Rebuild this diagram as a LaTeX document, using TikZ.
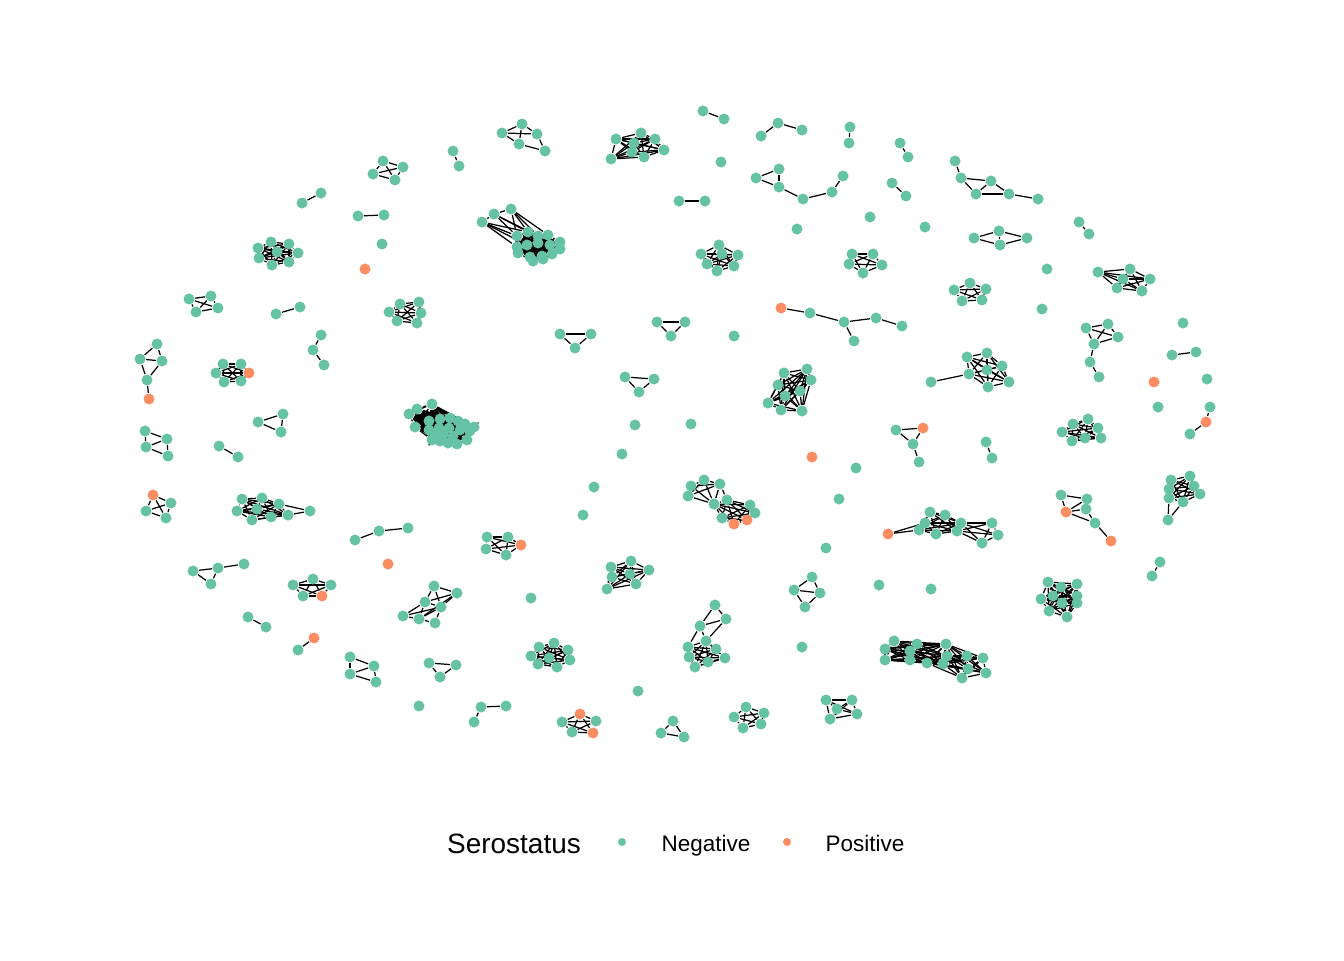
\documentclass[tikz,border=0pt]{standalone}
\usepackage{fontspec}
\setmainfont{Liberation Sans}
\usetikzlibrary{backgrounds}
\definecolor{negC}{RGB}{102,194,165}
\definecolor{posC}{RGB}{252,141,98}
% nodes of one component, edges listed, and all pairs of a list
\newcommand{\grp}[2]{\foreach \n/\x/\y in {#2} \node[negdot] (#1\n) at (\x,\y) {};}
\newcommand{\links}[2]{\foreach \na/\nb in {#2} \draw[link] (#1\na) -- (#1\nb);}
\newcommand{\fullmesh}[2]{\foreach \na [count=\i] in {#2}{\foreach \nb [count=\j] in {#2}{\ifnum\i<\j \draw[link] (#1\na) -- (#1\nb);\fi}}}

\begin{document}
\begin{tikzpicture}[x=0.1mm, y=-0.1mm,
  negdot/.style={circle, fill=negC, inner sep=0pt, minimum size=1.1mm},
  posdot/.style={negdot, fill=posC},
  link/.style={line width=0.35pt, draw=black},
  legtxt/.style={font=\fontsize{6.4}{8}\selectfont, anchor=base west, inner sep=0pt},
]
\useasboundingbox (0,0) rectangle (1344,960);

% ============ nodes ============
\grp{c1}{a/502/133,b/522/124,c/537/134,d/519/144,e/545/151}
\grp{c2}{a/616/139,b/641/133,c/655/139,d/634/143,e/664/150,f/611/159,g/632/152,h/644/157}
\grp{c3}{a/703/111,b/724/119}
\grp{c4}{a/761/136,b/778/123,c/802/130}
\grp{c5}{a/850/127,b/849/143}
\grp{c6}{a/900/143,b/908/157}
\grp{c7}{a/955/161,b/961/178,c/991/181,d/976/194,e/1009/194,f/1038/199}
\grp{c8}{a/453/151,b/459/166}
\grp{c9}{a/383/161,b/403/167,c/373/174,d/395/180}
\grp{c10}{a/721/162}
\grp{c11}{a/756/178,b/779/169,c/779/187,d/803/199,e/832/192,f/843/176}
\grp{c12}{a/892/183,b/906/196}
\grp{c13}{a/302/203,b/321/193}
\grp{c14}{a/679/201,b/705/201}
\grp{c15}{a/358/216,b/384/215}
\grp{c16}{a/870/217}
\grp{c17}{a/482/222,b/494/214,c/511/209,d/517/236,e/528/232,f/538/236,g/548/235,h/560/242,i/517/247,j/527/245,k/538/243,l/550/245,m/560/249,n/518/253,o/530/257,p/542/256,q/552/254,r/533/261,s/543/259}
\grp{c18}{a/925/227}
\grp{c19}{a/797/229}
\grp{c20}{a/974/238,b/999/231,c/1000/245,d/1027/238}
\grp{c21}{a/1079/222,b/1089/234}
\grp{c22}{a/271/242,b/289/244,c/258/248,d/277/252,e/298/253,f/259/258,g/289/262,h/272/265}
\grp{c23}{a/382/244}
\grp{c24}{a/701/254,b/719/245,c/738/255,d/722/254,e/707/264,f/717/271,g/734/266}
\grp{c25}{a/852/254,b/873/254,c/882/265,d/863/273,e/849/264}
\node[posdot] (c26a) at (365,269) {};
\grp{c27}{a/1047/269}
\grp{c28}{a/1098/272,b/1130/269,c/1123/279,d/1150/279,e/1117/288,f/1142/291}
\grp{c29}{a/954/290,b/970/283,c/986/289,d/962/301,e/982/300}
\grp{c30}{a/189/299,b/211/296,c/196/312,d/218/308}
\grp{c31}{a/276/314,b/300/307}
\grp{c32}{a/400/304,b/419/302,c/389/312,d/421/313,e/397/321,f/417/323}
\node[posdot] (c33a) at (781,308) {};
\grp{c33}{b/810/313,c/844/322,d/876/318,e/902/326,f/854/341}
\grp{c34}{a/1042/309}
\grp{c35}{a/1183/323}
\grp{c36}{a/1086/328,b/1108/324,c/1118/337,d/1094/344,e/1090/362,f/1099/377}
\grp{c37}{a/560/334,b/591/334,c/575/348}
\grp{c38}{a/657/322,b/685/322,c/671/336}
\grp{c39}{a/734/336}
\grp{c40}{a/321/335,b/313/350,c/324/365}
\grp{c41}{a/157/344,b/140/359,c/162/361,d/147/380}
\node[posdot] (c41e) at (149,399) {};
\grp{c42}{a/1172/355,b/1196/352}
\grp{c43}{a/223/364,b/241/364,c/216/373,e/224/382,f/241/381}
\node[posdot] (c43d) at (249,373) {};
\grp{c44}{a/931/382,b/967/357,c/987/353,d/1002/366,e/987/370,f/969/374,g/1009/382,h/988/387}
\grp{c45}{a/784/373,b/807/369,c/811/380,d/778/385,e/800/391,f/785/396,g/768/403,h/781/410,i/802/411}
\grp{c46}{a/625/377,b/654/379,c/639/392}
\node[posdot] (c47a) at (1154,382) {};
\grp{c48}{a/1207/379}
\grp{c49}{a/1158/407}
\grp{c50}{a/1210/407,c/1190/434}
\node[posdot] (c50b) at (1206,422) {};
\grp{c51}{a/432/404,b/417/409,c/409/414,d/415/427,e/429/421,f/440/419,g/450/418,h/458/421,i/465/424,j/474/427,k/429/430,l/439/428,m/449/428,n/460/430,o/470/431,p/432/440,q/440/441,r/448/443,s/457/444,t/467/440,u/435/435,v/453/436,w/443/435}
\grp{c52}{a/258/422,b/283/414,c/281/432}
\grp{c53}{a/635/425}
\grp{c54}{a/691/424}
\grp{c55}{a/145/431,b/167/439,c/146/447,d/168/456}
\grp{c56}{a/896/430,c/913/444,d/919/462}
\node[posdot] (c56b) at (923,428) {};
\grp{c57}{a/986/442,b/992/458}
\grp{c58}{a/1073/424,b/1088/419,c/1098/428,d/1062/432,e/1072/441,f/1085/438,g/1101/438}
\grp{c59}{a/219/446,b/238/457}
\grp{c60}{a/622/454}
\node[posdot] (c61a) at (812,457) {};
\grp{c62}{a/856/468}
\grp{c63}{a/1171/480,b/1190/476,c/1169/489,d/1194/486,e/1200/494,f/1169/498,g/1183/502,h/1168/520}
\grp{c64}{a/594/487}
\grp{c65}{a/691/486,b/704/480,c/720/484,d/688/496,e/714/504,f/727/500,g/750/505,h/755/513,i/722/518}
\node[posdot] (c65j) at (734,524) {};
\node[posdot] (c65k) at (747,520) {};
\node[posdot] (c66a) at (153,495) {};
\grp{c66}{b/171/503,c/146/511,d/166/518}
\grp{c67}{a/242/499,b/262/498,c/279/504,d/237/511,e/257/509,f/252/520,g/271/517,h/288/515,i/310/511}
\grp{c68}{a/1061/495,b/1087/499,d/1086/509,e/1095/523}
\node[posdot] (c68c) at (1066,512) {};
\node[posdot] (c68f) at (1111,541) {};
\grp{c69}{a/839/499}
\grp{c70}{a/583/515}
\node[posdot] (c71a) at (888,534) {};
\grp{c71}{b/919/530,c/930/512,d/945/515,e/925/523,f/936/534,g/957/531,h/961/523,i/992/523,j/998/535,k/982/543}
\grp{c72}{a/355/540,b/379/531,c/408/528}
\grp{c73}{a/487/537,b/508/537,c/486/549,d/506/555}
\node[posdot] (c73e) at (521,545) {};
\grp{c74}{a/826/548}
\node[posdot] (c75a) at (388,564) {};
\grp{c76}{a/1160/562,b/1152/576}
\grp{c77}{a/611/567,b/631/561,c/649/570,d/612/577,e/630/574,f/636/584,g/607/589}
\grp{c78}{a/193/571,b/218/568,c/211/584,d/244/564}
\grp{c79}{a/293/585,b/313/579,c/331/585,d/303/596}
\node[posdot] (c79e) at (322,596) {};
\grp{c80}{a/879/585}
\grp{c81}{a/931/589}
\grp{c82}{a/1048/582,b/1077/584,c/1061/587,d/1053/596,e/1077/596,f/1041/599,g/1062/603,h/1077/603,i/1049/611,j/1067/617}
\grp{c83}{a/812/577,b/794/590,c/820/593,d/805/607}
\grp{c84}{a/531/598}
\grp{c85}{a/434/586,b/457/593,c/425/602,d/441/607,e/403/616,f/419/619,g/435/623}
\grp{c86}{a/248/617,b/266/627}
\node[posdot] (c87a) at (314,638) {};
\grp{c87}{b/298/650}
\grp{c88}{a/715/605,b/726/619,c/700/626,d/706/641,e/688/647,f/716/649,g/689/657,h/708/662,i/725/658,j/695/667}
\grp{c89}{a/802/647}
\grp{c90}{a/539/647,b/554/643,c/568/650,d/531/656,e/549/658,f/570/660,g/538/664,h/557/667}
\grp{c91}{a/894/641,b/885/649,c/917/644,d/946/644,e/910/651,f/885/660,g/910/660,h/927/663,i/947/656,j/943/664,k/967/656,l/983/658,m/968/669,n/986/673,o/962/678}
\grp{c92}{a/350/657,b/374/666,c/350/674,d/376/682}
\grp{c93}{a/429/663,b/456/665,c/440/677}
\grp{c94}{a/638/691}
\grp{c95}{a/826/700,b/852/700,c/837/709,d/857/714,e/830/719}
\grp{c96}{a/419/706}
\grp{c97}{a/474/722,b/481/707,c/506/706}
\node[posdot] (c98a) at (580,714) {};
\grp{c98}{b/562/722,c/596/721,d/572/732}
\node[posdot] (c98e) at (593,733) {};
\grp{c99}{a/673/721,b/661/733,c/684/737}
\grp{c100}{a/746/707,b/734/717,c/764/713,d/743/728,e/761/724}

% ============ edges ============
\begin{scope}[on background layer]
\links{c1}{a/b,a/c,b/c,b/d,a/d,d/e,c/e}
\fullmesh{c2}{a,b,c,d,e,f,g,h}
\links{c3}{a/b}
\links{c4}{a/b,b/c}
\links{c5}{a/b}
\links{c6}{a/b}
\links{c7}{a/b,b/c,b/d,c/d,c/e,d/e,e/f}
\links{c8}{a/b}
\fullmesh{c9}{a,b,c,d}
\links{c11}{a/b,b/c,a/c,c/d,d/e,e/f}
\links{c12}{a/b}
\links{c13}{a/b}
\links{c14}{a/b}
\links{c15}{a/b}
\links{c17}{a/b,b/c,a/d,a/e,a/i,a/j,b/d,b/e,b/f,c/d,c/e,c/f,c/g}
\fullmesh{c17}{d,e,f,g,h,i,j,k,l,m,n,o,p,q,r,s}
\links{c20}{a/b,a/c,b/c,b/d,c/d}
\links{c21}{a/b}
\fullmesh{c22}{a,b,c,d,e,f,g,h}
\fullmesh{c24}{a,b,c,d,e,f,g}
\fullmesh{c25}{a,b,c,d,e}
\fullmesh{c28}{a,b,c,d,e,f}
\fullmesh{c29}{a,b,c,d,e}
\fullmesh{c30}{a,b,c,d}
\links{c31}{a/b}
\fullmesh{c32}{a,b,c,d,e,f}
\links{c33}{a/b,b/c,c/d,d/e,c/f}
\links{c36}{a/b,a/c,a/d,b/c,b/d,c/d,d/e,e/f}
\fullmesh{c37}{a,b,c}
\fullmesh{c38}{a,b,c}
\links{c40}{a/b,b/c}
\links{c41}{a/b,a/c,b/c,b/d,c/d,d/e}
\links{c42}{a/b}
\fullmesh{c43}{a,b,c,d,e,f}
\links{c44}{a/f}
\fullmesh{c44}{b,c,d,e,f,g,h}
\fullmesh{c45}{a,b,c,d,e,f,g,h,i}
\fullmesh{c46}{a,b,c}
\links{c50}{a/b,b/c}
\fullmesh{c51}{a,b,c,d,e,f,g,h,i,j,k,l,m,n,o,p,q,r,s,t,u,v,w}
\fullmesh{c52}{a,b,c}
\links{c55}{a/b,a/c,b/c,c/d,b/d}
\links{c56}{a/b,a/c,b/c,c/d}
\links{c57}{a/b}
\fullmesh{c58}{a,b,c,d,e,f,g}
\links{c59}{a/b}
\fullmesh{c63}{a,b,c,d,e,f,g}
\links{c63}{f/h,g/h}
\fullmesh{c65}{a,b,c,d,e}
\fullmesh{c65}{e,f,g,h,i,j,k}
\links{c65}{c/f}
\fullmesh{c66}{a,b,c,d}
\fullmesh{c67}{a,b,c,d,e,f,g,h}
\links{c67}{c/i,h/i}
\links{c68}{a/b,a/c,b/c,b/d,c/d,c/e,d/e,e/f}
\links{c71}{a/b,a/e,g/i,h/i,g/j,h/j,g/k,h/k,i/j,j/k,i/k}
\fullmesh{c71}{b,c,d,e,f,g,h}
\links{c72}{a/b,b/c}
\fullmesh{c73}{a,b,c,d,e}
\links{c76}{a/b}
\fullmesh{c77}{a,b,c,d,e,f,g}
\links{c78}{a/b,a/c,b/c,b/d}
\fullmesh{c79}{a,b,c,d,e}
\fullmesh{c82}{a,b,c,d,e,f,g,h,i,j}
\links{c83}{a/b,a/c,b/c,b/d,c/d}
\links{c85}{a/b,a/c,a/d,b/c,b/d,b/f,c/d,c/e,c/f,d/e,d/f,d/g,e/f,f/g}
\links{c86}{a/b}
\links{c87}{a/b}
\links{c88}{a/b,a/c,b/c,b/d,c/e,c/d}
\fullmesh{c88}{d,e,f,g,h,i,j}
\fullmesh{c90}{a,b,c,d,e,f,g,h}
\fullmesh{c91}{a,b,c,d,e,f,g,h,i,j}
\fullmesh{c91}{d,h,i,j,k,l,m,n,o}
\links{c92}{a/b,a/c,b/c,c/d,b/d}
\fullmesh{c93}{a,b,c}
\fullmesh{c95}{a,b,c,d,e}
\links{c97}{a/b,b/c}
\fullmesh{c98}{a,b,c,d,e}
\fullmesh{c99}{a,b,c}
\fullmesh{c100}{a,b,c,d,e}
\end{scope}

% ============ legend ============
\node[font=\fontsize{7.95}{9}\selectfont, anchor=base, inner sep=0pt] (legtitle) at (514,853) {Serostatus};
\node[negdot, minimum size=0.8mm] (legneg) at (622,842) {};
\node[legtxt] (legnegtxt) at (661,851) {Negative};
\node[posdot, minimum size=0.8mm] (legpos) at (787,842) {};
\node[legtxt] (legpostxt) at (825,851) {Positive};

\end{tikzpicture}
\end{document}
